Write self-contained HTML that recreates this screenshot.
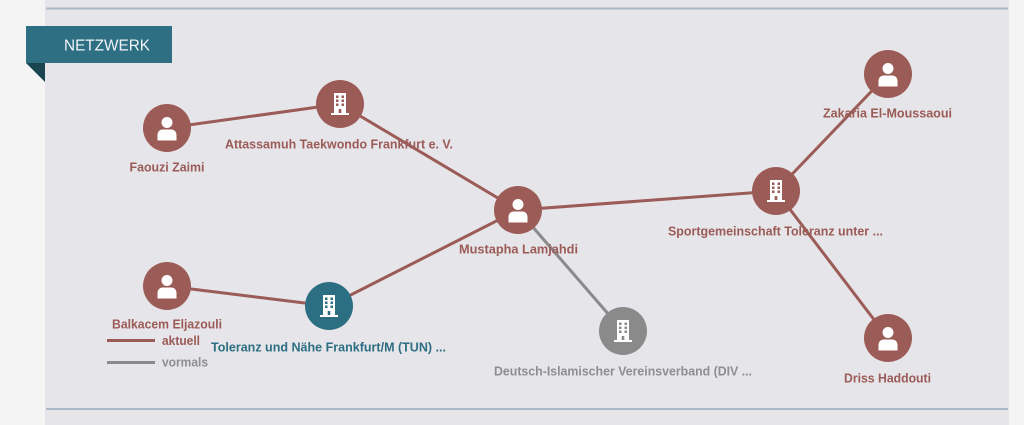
<!DOCTYPE html>
<html><head><meta charset="utf-8">
<style>
html,body{margin:0;padding:0;width:1024px;height:425px;overflow:hidden;background:#f4f4f5;}
svg{display:block;}
text{font-family:"Liberation Sans",Arial,sans-serif;}
</style></head>
<body>
<svg width="1024" height="425" viewBox="0 0 1024 425" xmlns="http://www.w3.org/2000/svg">
<defs>
  <g id="person">
    <circle cx="0" cy="-5.5" r="5.5" fill="#fff"/>
    <path d="M-9.5,12.5 V6.5 A5,5 0 0 1 -4.5,1.5 H4.5 A5,5 0 0 1 9.5,6.5 V12.5 Z" fill="#fff"/>
  </g>
</defs>
<rect x="45" y="0" width="964" height="425" fill="#e6e5ea"/>
<rect x="46" y="7.5" width="962" height="2" fill="#a9b9c8"/>
<rect x="46" y="408" width="962" height="2" fill="#a9b9c8"/>

<!-- banner -->
<rect x="26" y="26" width="146" height="37" fill="#2e6f83"/>
<polygon points="26,63 45,63 45,82" fill="#1c4552"/>
<text x="64" y="50.5" font-size="16" fill="#f1f5f7" textLength="86" lengthAdjust="spacingAndGlyphs">NETZWERK</text>

<!-- edges -->
<g stroke-width="3" stroke-linecap="round">
  <line x1="167" y1="128" x2="340" y2="104" stroke="#9b5b56"/>
  <line x1="340" y1="104" x2="518" y2="210" stroke="#9b5b56"/>
  <line x1="518" y1="210" x2="329" y2="306" stroke="#9b5b56"/>
  <line x1="167" y1="286" x2="329" y2="306" stroke="#9b5b56"/>
  <line x1="518" y1="210" x2="776" y2="191" stroke="#9b5b56"/>
  <line x1="518" y1="210" x2="623" y2="331" stroke="#8a8a8a"/>
  <line x1="776" y1="191" x2="888" y2="74" stroke="#9b5b56"/>
  <line x1="776" y1="191" x2="888" y2="338" stroke="#9b5b56"/>
</g>

<!-- legend -->
<line x1="107" y1="340.5" x2="155" y2="340.5" stroke="#9b5b56" stroke-width="3"/>
<line x1="107" y1="362.5" x2="155" y2="362.5" stroke="#8a8a8a" stroke-width="3"/>
<text x="162" y="345" font-size="13" font-weight="bold" fill="#9b5b56" textLength="38" lengthAdjust="spacingAndGlyphs">aktuell</text>
<text x="162" y="366.5" font-size="13" font-weight="bold" fill="#8e8e8e" textLength="46" lengthAdjust="spacingAndGlyphs">vormals</text>

<!-- person nodes -->
<g>
  <circle cx="167" cy="128" r="24" fill="#9b5b56"/>
  <use href="#person" x="167" y="128"/>
  <circle cx="518" cy="210" r="24" fill="#9b5b56"/>
  <use href="#person" x="518" y="210"/>
  <circle cx="167" cy="286" r="24" fill="#9b5b56"/>
  <use href="#person" x="167" y="286"/>
  <circle cx="888" cy="74" r="24" fill="#9b5b56"/>
  <use href="#person" x="888" y="74"/>
  <circle cx="888" cy="338" r="24" fill="#9b5b56"/>
  <use href="#person" x="888" y="338"/>
</g>

<!-- building nodes -->
<g transform="translate(340,104)">
  <circle r="24" fill="#9b5b56"/>
  <rect x="-6" y="-11" width="12" height="20" fill="#fff"/>
  <rect x="-9" y="9" width="18" height="2" fill="#fff"/>
  <g fill="#9b5b56">
    <rect x="-4" y="-8.5" width="2.5" height="2.5"/><rect x="1.5" y="-8.5" width="2.5" height="2.5"/>
    <rect x="-4" y="-4.5" width="2.5" height="2.5"/><rect x="1.5" y="-4.5" width="2.5" height="2.5"/>
    <rect x="-4" y="-0.5" width="2.5" height="2.5"/><rect x="1.5" y="-0.5" width="2.5" height="2.5"/>
    <rect x="-1.3" y="5" width="2.6" height="4"/>
  </g>
</g>
<g transform="translate(776,191)">
  <circle r="24" fill="#9b5b56"/>
  <rect x="-6" y="-11" width="12" height="20" fill="#fff"/>
  <rect x="-9" y="9" width="18" height="2" fill="#fff"/>
  <g fill="#9b5b56">
    <rect x="-4" y="-8.5" width="2.5" height="2.5"/><rect x="1.5" y="-8.5" width="2.5" height="2.5"/>
    <rect x="-4" y="-4.5" width="2.5" height="2.5"/><rect x="1.5" y="-4.5" width="2.5" height="2.5"/>
    <rect x="-4" y="-0.5" width="2.5" height="2.5"/><rect x="1.5" y="-0.5" width="2.5" height="2.5"/>
    <rect x="-1.3" y="5" width="2.6" height="4"/>
  </g>
</g>
<g transform="translate(329,306)">
  <circle r="24" fill="#2d6f82"/>
  <rect x="-6" y="-11" width="12" height="20" fill="#fff"/>
  <rect x="-9" y="9" width="18" height="2" fill="#fff"/>
  <g fill="#2d6f82">
    <rect x="-4" y="-8.5" width="2.5" height="2.5"/><rect x="1.5" y="-8.5" width="2.5" height="2.5"/>
    <rect x="-4" y="-4.5" width="2.5" height="2.5"/><rect x="1.5" y="-4.5" width="2.5" height="2.5"/>
    <rect x="-4" y="-0.5" width="2.5" height="2.5"/><rect x="1.5" y="-0.5" width="2.5" height="2.5"/>
    <rect x="-1.3" y="5" width="2.6" height="4"/>
  </g>
</g>
<g transform="translate(623,331)">
  <circle r="24" fill="#8a8a8a"/>
  <rect x="-6" y="-11" width="12" height="20" fill="#fff"/>
  <rect x="-9" y="9" width="18" height="2" fill="#fff"/>
  <g fill="#8a8a8a">
    <rect x="-4" y="-8.5" width="2.5" height="2.5"/><rect x="1.5" y="-8.5" width="2.5" height="2.5"/>
    <rect x="-4" y="-4.5" width="2.5" height="2.5"/><rect x="1.5" y="-4.5" width="2.5" height="2.5"/>
    <rect x="-4" y="-0.5" width="2.5" height="2.5"/><rect x="1.5" y="-0.5" width="2.5" height="2.5"/>
    <rect x="-1.3" y="5" width="2.6" height="4"/>
  </g>
</g>

<!-- labels -->
<g font-size="13" font-weight="bold" text-anchor="middle">
  <text x="167" y="171.5" fill="#9b5b56" textLength="75" lengthAdjust="spacingAndGlyphs">Faouzi Zaimi</text>
  <text x="339" y="148.5" fill="#9b5b56" textLength="228" lengthAdjust="spacingAndGlyphs">Attassamuh Taekwondo Frankfurt e. V.</text>
  <text x="518.5" y="253.5" fill="#9b5b56" textLength="119" lengthAdjust="spacingAndGlyphs">Mustapha Lamjahdi</text>
  <text x="775.5" y="235.5" fill="#9b5b56" textLength="215" lengthAdjust="spacingAndGlyphs">Sportgemeinschaft Toleranz unter ...</text>
  <text x="887.5" y="117.5" fill="#9b5b56" textLength="129" lengthAdjust="spacingAndGlyphs">Zakaria El-Moussaoui</text>
  <text x="887.5" y="382.5" fill="#9b5b56" textLength="87" lengthAdjust="spacingAndGlyphs">Driss Haddouti</text>
  <text x="167" y="328.5" fill="#9b5b56" textLength="110" lengthAdjust="spacingAndGlyphs">Balkacem Eljazouli</text>
  <text x="328.5" y="351.5" fill="#2d6f82" textLength="235" lengthAdjust="spacingAndGlyphs">Toleranz und Nähe Frankfurt/M (TUN) ...</text>
  <text x="623" y="375.5" fill="#8e8e8e" textLength="258" lengthAdjust="spacingAndGlyphs">Deutsch-Islamischer Vereinsverband (DIV ...</text>
</g>
</svg>
</body></html>
